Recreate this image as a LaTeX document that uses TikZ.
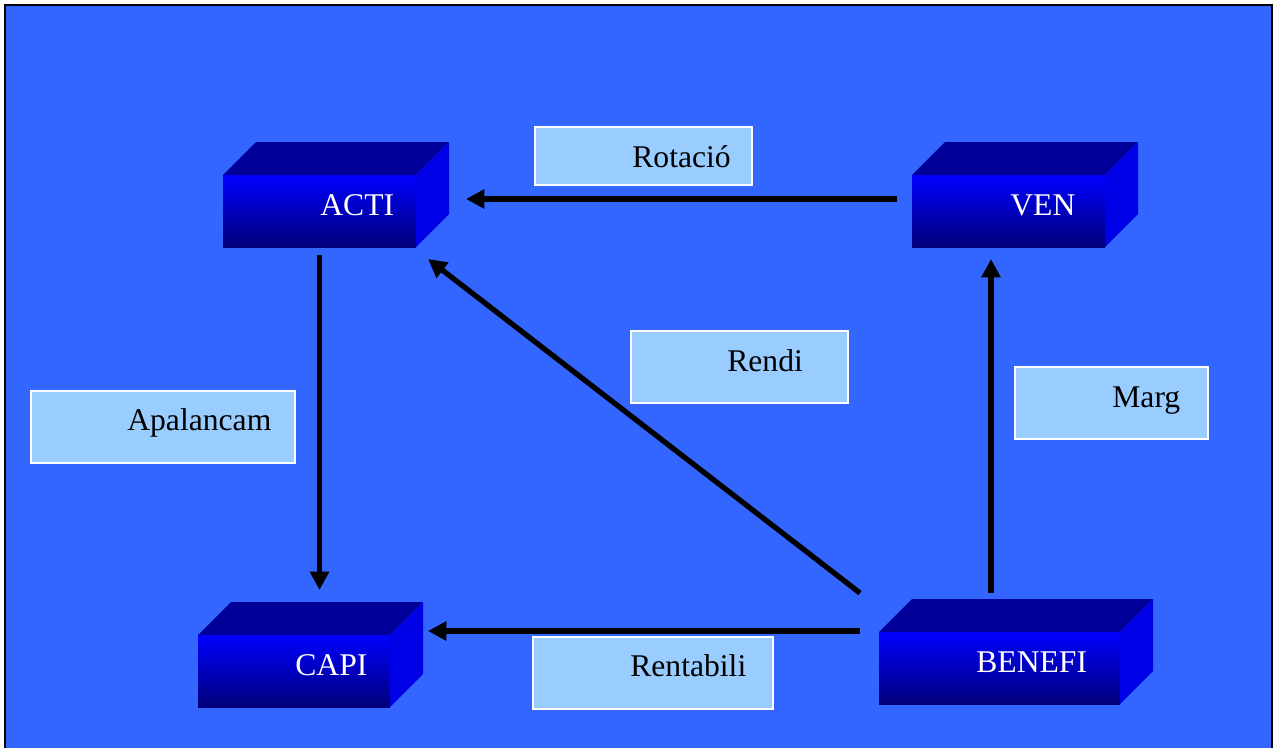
\documentclass[tikz,border=0pt]{standalone}
\usepackage{fontspec}
\setmainfont{Liberation Serif}
\usetikzlibrary{calc,arrows.meta}
\definecolor{fondo}{HTML}{3366FF}
\definecolor{etiq}{HTML}{99CCFF}
\definecolor{cara}{HTML}{000099}
\definecolor{lado}{HTML}{0000E6}
\definecolor{frente}{HTML}{0000FF}
\definecolor{marino}{HTML}{00007A}
\begin{document}
\begin{tikzpicture}[x=0.02cm, y=-0.02cm,
    caja/.style = {inner sep=0, outer sep=0, minimum height=72*0.02cm, top color=frente, bottom color=marino},
    etiqueta/.style = {fill=etiq, draw=white, line width=0.9pt, inner sep=0, minimum height=72*0.02cm},
    texto/.style = {anchor=base west, inner sep=0, font=\fontsize{18}{21}\selectfont},
    flecha/.style = {line width=3pt, -{Triangle[length=10.5pt,width=10.5pt]}}]

    \useasboundingbox (0,0) rectangle (1275,748);
    \fill[fondo] (5,5) rectangle (1272,748);
    \draw[line width=1.2pt] (5,748) -- (5,5) -- (1272,5) -- (1272,748);

    \node[caja, minimum width=193*0.02cm] (acti) at (319.5,211) {};
    \node[caja, minimum width=193*0.02cm] (ven) at (1008.5,211) {};
    \node[caja, minimum width=192*0.02cm] (capi) at (294,671) {};
    \node[caja, minimum width=241*0.02cm] (benefi) at (999.5,668) {};

    \foreach \n in {acti,ven,capi,benefi} {
      \fill[cara] (\n.north west) -- ++(33,-33) -- ($(\n.north east)+(33,-33)$) -- (\n.north east) -- cycle;
      \fill[lado] (\n.north east) -- ++(33,-33) -- ($(\n.south east)+(33,-33)$) -- (\n.south east) -- cycle;
    }

    \node[texto, text=white] (actitxt) at (320,215) {ACTI};
    \node[texto, text=white] (ventxt) at (1010,215) {VEN};
    \node[texto, text=white] (capitxt) at (295,675) {CAPI};
    \node[texto, text=white] (benefitxt) at (976,672) {BENEFI};

    \node[etiqueta, minimum width=217*0.02cm, minimum height=58*0.02cm] (rotacio) at (643.5,156) {};
    \node[etiqueta, minimum width=264*0.02cm] (apalancam) at (163,427) {};
    \node[etiqueta, minimum width=217*0.02cm] (rendi) at (739.5,367) {};
    \node[etiqueta, minimum width=193*0.02cm] (marg) at (1111.5,403) {};
    \node[etiqueta, minimum width=240*0.02cm] (rentabili) at (653,673) {};

    \node[texto] (rotaciotxt) at (632,167) {Rotació};
    \node[texto] (apalancamtxt) at (127,430) {Apalancam};
    \node[texto] (renditxt) at (727,371) {Rendi};
    \node[texto] (margtxt) at (1112,407) {Marg};
    \node[texto] (rentabilitxt) at (630,676) {Rentabili};

    \draw[flecha] ($(ven.west)+(-15,-12)$) -- ($(acti.east)+(50,-12)$);
    \draw[flecha] ($(acti.south)+(0,8)$) -- ($(capi.north)+(25.5,-45)$);
    \draw[flecha] ($(benefi.west)+(-19,-37)$) -- ($(capi.east)+(38,-40)$);
    \draw[flecha] ($(benefi.north)+(-8.5,-39)$) -- ($(ven.south)+(-17.5,12)$);
    \draw[flecha] ($(benefi.north west)+(-19,-39)$) -- ($(acti.south east)+(12,12)$);

\end{tikzpicture}
\end{document}
